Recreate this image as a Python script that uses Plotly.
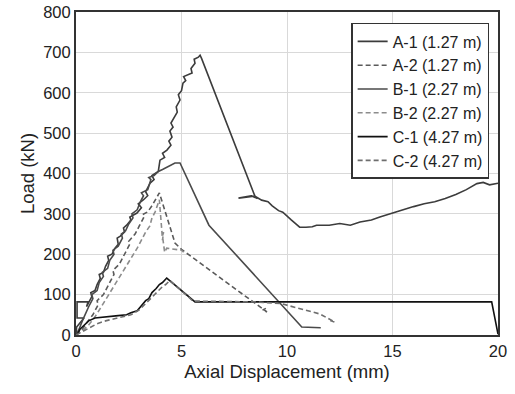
import plotly.graph_objects as go

# ---- data ----
a1_x = [0, 0.03, 0.38, 0.05, 0.05, 0.57, 0.5, 0.6, 0.75, 0.7, 0.9, 1.0, 1.15, 1.1, 1.3, 1.4, 1.55, 1.5, 1.7,
        1.85, 2.0, 1.95, 2.1, 2.3, 2.25, 2.4, 2.6, 2.55, 2.8, 2.89, 3.1, 2.95, 3.2, 3.4, 3.3, 3.51, 3.7, 3.6,
        3.9, 3.98, 4.2, 4.1, 4.31, 4.5, 4.4, 4.55, 4.45, 4.6, 4.5, 4.65, 4.8, 4.75, 4.93, 4.85, 5.0, 5.07,
        5.2, 5.1, 5.35, 5.5, 5.45, 5.64, 5.6, 5.8, 5.88, 5.95, 8.48, 7.7, 8.3, 8.6, 8.5, 8.8, 9.1, 9.3, 9.6,
        9.8, 10.2, 10.5, 10.6, 10.9, 11.2, 11.4, 12.0, 12.5, 13.0, 13.46, 14.0, 14.4, 15.0, 15.5, 16.0,
        16.5, 17.0, 17.5, 18.0, 18.5, 19.0, 19.3, 19.6, 20.0]
a1_y = [0, 20, 42, 42, 82, 82, 70, 80, 95, 105, 110, 125, 140, 150, 155, 170, 185, 195, 200,
        215, 225, 240, 245, 255, 265, 272, 285, 292, 298, 302, 315, 325, 335, 345, 355, 376, 385, 395,
        405, 433, 440, 450, 458, 470, 480, 490, 505, 515, 525, 540, 552, 565, 582, 595, 605, 624,
        630, 640, 645, 649, 660, 673, 683, 688, 693, 685, 344, 339, 345, 338, 343, 334, 330, 320, 308,
        304, 285, 270, 267, 267, 268, 272, 272, 276, 272, 280, 285, 292, 302, 310, 318,
        325, 330, 338, 348, 360, 375, 378, 372, 376]

a2_x = [0, 0.25, 0.5, 0.8, 1.05, 1.0, 1.3, 1.55, 1.8, 1.75, 2.05, 2.3, 2.55, 2.5, 2.8, 3.0, 3.2, 3.15,
        3.4, 3.6, 3.8, 3.95, 4.69, 5.0, 9.05, 8.85, 9.0]
a2_y = [0, 10, 30, 50, 75, 85, 100, 125, 150, 160, 175, 200, 225, 232, 250, 270, 290, 298,
        305, 320, 340, 352, 228, 212, 57, 62, 66]

b1_x = [0, 0.15, 0.3, 0.45, 0.6, 0.8, 0.75, 1.0, 1.1, 1.3, 1.25, 1.5, 1.6, 1.8, 1.75, 2.0, 2.2, 2.15,
        2.35, 2.5, 2.7, 2.65, 2.9, 3.05, 3.2, 3.1, 3.4, 3.55, 3.45, 3.7, 3.9, 4.1, 4.3, 4.5, 4.69, 4.93,
        6.3, 10.7, 11.6]
b1_y = [0, 15, 35, 55, 70, 90, 100, 110, 130, 145, 155, 165, 185, 200, 210, 220, 240, 250,
        258, 275, 290, 300, 310, 330, 345, 352, 360, 385, 390, 395, 405, 410, 415, 422, 426, 426,
        272, 20, 18]

b2_x = [0, 0.3, 0.6, 0.9, 1.2, 1.5, 1.8, 2.0, 2.3, 2.6, 2.9, 3.1, 3.3, 3.5, 3.6, 3.75, 3.85, 3.95,
        4.05, 4.1, 4.15, 4.1, 4.2, 4.3, 5.0, 5.1]
b2_y = [0, 10, 25, 45, 70, 95, 120, 140, 165, 190, 215, 235, 255, 270, 290, 305, 320, 335,
        270, 235, 255, 245, 205, 215, 210, 205]

c1_x = [0, 0.1, 0.2, 0.4, 0.6, 0.9, 1.2, 1.6, 2.0, 2.4, 2.6, 2.9, 3.1, 3.3, 3.45, 3.6, 3.8, 3.95, 4.1,
        4.3, 5.64, 10.0, 15.0, 19.7, 20.0]
c1_y = [0, 5, 15, 25, 35, 42, 44, 46, 48, 50, 55, 60, 72, 85, 90, 105, 115, 125, 130,
        141, 82, 82, 82, 82, 2]

c2_x = [0, 0.3, 0.6, 1.0, 1.4, 1.8, 2.2, 2.6, 3.0, 3.3, 3.6, 3.9, 4.1, 4.25, 4.45, 5.55, 8.5, 9.7,
        11.56, 12.27, 12.05]
c2_y = [0, 8, 18, 28, 35, 40, 45, 50, 62, 78, 95, 110, 120, 125, 135, 84, 82, 78,
        52, 32, 36]

series = [
    ("A-1 (1.27 m)", a1_x, a1_y, "#3c3c3c", "solid"),
    ("A-2 (1.27 m)", a2_x, a2_y, "#5a5a5a", "5px,3px"),
    ("B-1 (2.27 m)", b1_x, b1_y, "#4a4a4a", "solid"),
    ("B-2 (2.27 m)", b2_x, b2_y, "#8c8c8c", "5px,3px"),
    ("C-1 (4.27 m)", c1_x, c1_y, "#111111", "solid"),
    ("C-2 (4.27 m)", c2_x, c2_y, "#6e6e6e", "5px,3px"),
]

x_ticks = [0, 5, 10, 15, 20]
y_ticks = [0, 100, 200, 300, 400, 500, 600, 700, 800]

fig = go.Figure()
for name, xs, ys, col, dash in series:
    fig.add_trace(go.Scatter(x=xs, y=ys, name=name, mode="lines",
                             line=dict(color=col, width=1.6, dash=dash)))

fig.update_layout(
    width=515, height=394,
    margin=dict(l=76, r=17, t=12, b=59, autoexpand=False),
    paper_bgcolor="white", plot_bgcolor="white",
    font=dict(family="Liberation Sans, Arial, sans-serif", size=16, color="#222"),
    showlegend=True,
    legend=dict(x=0.652, y=0.966, xanchor="left", yanchor="top",
                bgcolor="white", bordercolor="#333", borderwidth=1.5,
                font=dict(size=16, color="#222"), tracegroupgap=0,
                itemwidth=30),
)
fig.update_xaxes(range=[0, 20], tickvals=x_ticks, showgrid=True, gridcolor="#d9d9d9",
                 showline=True, linecolor="#333", linewidth=2, mirror=True, automargin=False,
                 zeroline=False, ticks="", tickfont=dict(size=16.5),
                 title=dict(text="Axial Displacement (mm)", font=dict(size=18.5), standoff=6))
fig.update_yaxes(range=[0, 800], tickvals=y_ticks, showgrid=True, gridcolor="#d9d9d9",
                 showline=True, linecolor="#333", linewidth=2, mirror=True, automargin=False,
                 zeroline=False, ticks="", tickfont=dict(size=16.5),
                 title=dict(text="Load (kN)", font=dict(size=18.5), standoff=4))

fig.write_html("out.html",
               config={"displayModeBar": False},
               post_script="document.body.style.margin='0';document.body.style.overflow='hidden';")
